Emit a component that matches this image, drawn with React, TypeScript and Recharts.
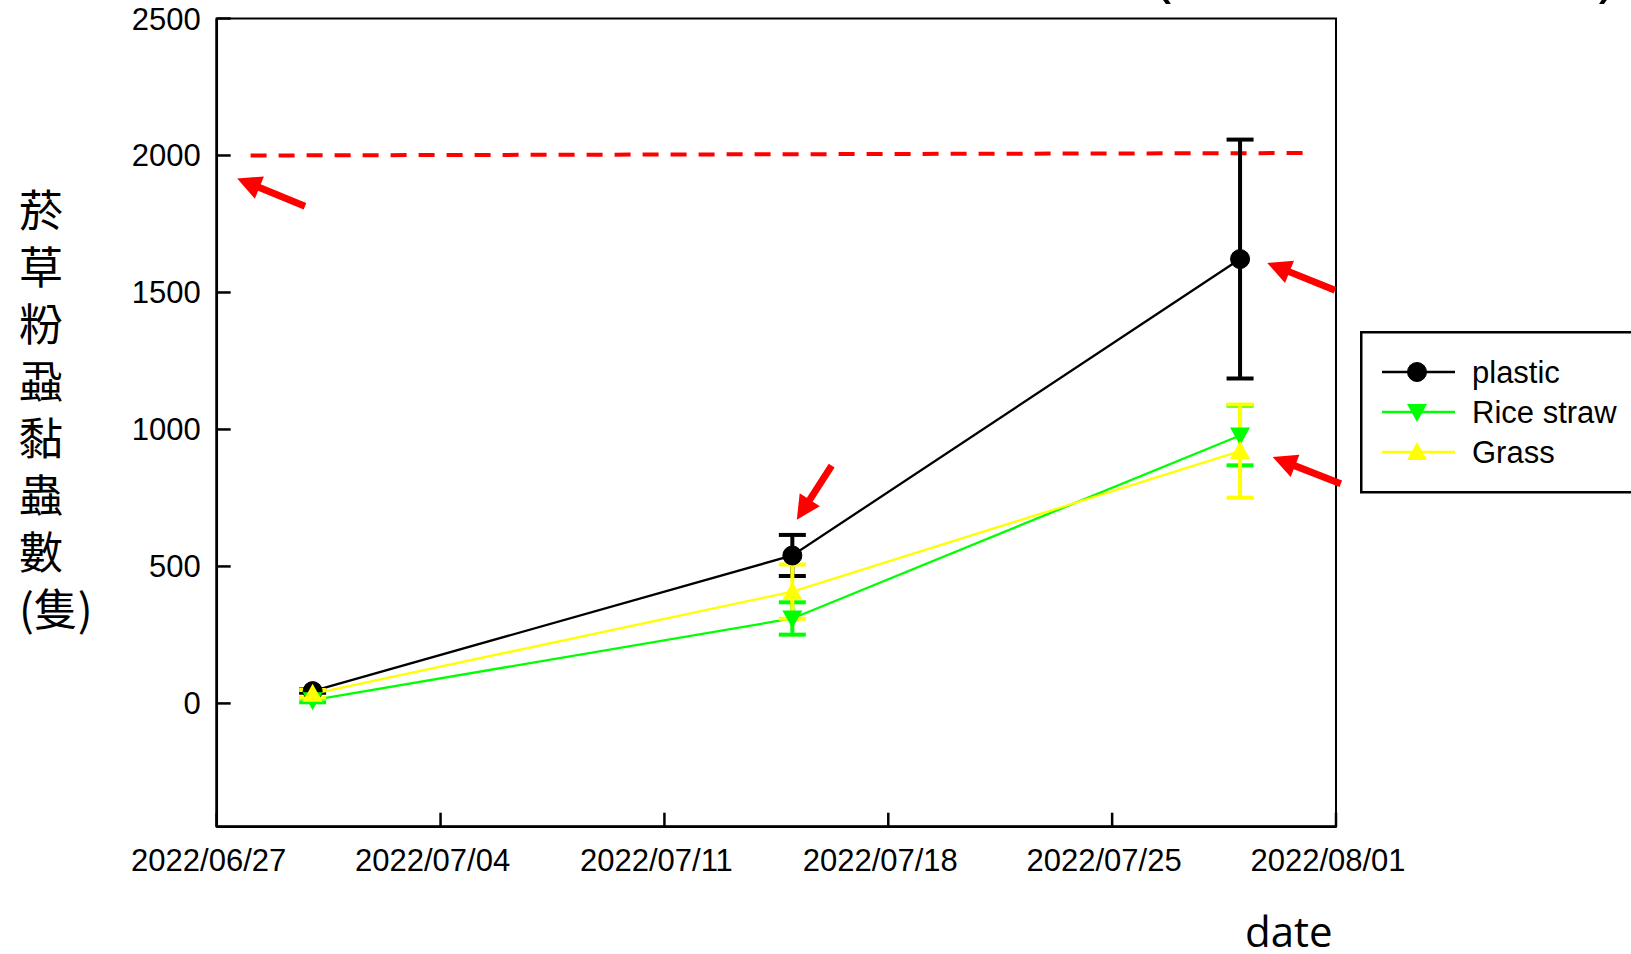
import React from 'react';
import { ComposedChart, Line, XAxis, YAxis, ErrorBar, ReferenceLine, ReferenceArea, Legend } from 'recharts';

// ---------- data ----------
const startDate = '2022/06/27';
const dates = ['2022/06/30', '2022/07/15', '2022/07/29'];
const plastic = [45, 540, 1622];
const plasticErr = [6, 75, 436];
const riceStraw = [12, 310, 978];
const riceStrawErr = [8, 59, 109];
const grass = [35, 408, 921];
const grassErr = [14, 99, 170];

const xTickLabels = ['2022/06/27', '2022/07/04', '2022/07/11', '2022/07/18', '2022/07/25', '2022/08/01'];
const yTicks = [0, 500, 1000, 1500, 2000, 2500];
const yDomain = [-450, 2500];

const seriesKeys = ['plastic', 'rice', 'grass'];
const seriesNames = ['plastic', 'Rice straw', 'Grass'];
const seriesColors = ['#000000', '#00ff00', '#ffff00'];
const seriesMarkers = ['circle', 'down', 'up'];

// threshold dashed line (day offset, value)
const thresholdX = [1.06, 34.03];
const thresholdY = [2000, 2009];

// annotation arrows: tail -> head (day offset, value)
const arrowTailX = [2.76, 34.97, 35.15, 19.23];
const arrowTailY = [1815, 1508, 802, 868];
const arrowHeadX = [0.64, 32.85, 33.02, 18.14];
const arrowHeadY = [1916, 1608, 899, 670];

const yLabelChars = ['菸', '草', '粉', '蝨', '黏', '蟲', '數', '(隻)'];
const xLabelText = 'date';

// ---------- derived ----------
const parseDay = (s: string) => {
  const [y, m, d] = s.split('/').map(Number);
  return Date.UTC(y, m - 1, d) / 86400000;
};
const day0 = parseDay(startDate);
const xTickDays = xTickLabels.map((s) => parseDay(s) - day0);

const data = dates.map((d, i) => ({
  day: parseDay(d) - day0,
  plastic: plastic[i],
  plasticErr: plasticErr[i],
  rice: riceStraw[i],
  riceErr: riceStrawErr[i],
  grass: grass[i],
  grassErr: grassErr[i],
}));

const FONT = '"Liberation Sans", Arial, sans-serif';

function MarkerShape({ shape, cx, cy, color }: any) {
  if (cx == null || cy == null) return null;
  if (shape === 'circle') return <circle cx={cx} cy={cy} r={9.5} fill={color} stroke={color} />;
  if (shape === 'down')
    return <polygon points={`${cx - 10},${cy - 8} ${cx + 10},${cy - 8} ${cx},${cy + 10}`} fill={color} />;
  return <polygon points={`${cx - 10},${cy + 8} ${cx + 10},${cy + 8} ${cx},${cy - 10}`} fill={color} />;
}

function ArrowShape(props: any) {
  const { x1, y1, x2, y2 } = props;
  const dx = x2 - x1;
  const dy = y2 - y1;
  const len = Math.sqrt(dx * dx + dy * dy);
  const ux = dx / len;
  const uy = dy / len;
  const px = -uy;
  const py = ux;
  const headLen = 24;
  const headHalf = 12;
  const bx = x2 - ux * headLen;
  const by = y2 - uy * headLen;
  return (
    <g>
      <line x1={x1} y1={y1} x2={bx + ux * 2} y2={by + uy * 2} stroke="#ff0000" strokeWidth={7} />
      <polygon
        points={`${x2},${y2} ${bx + px * headHalf},${by + py * headHalf} ${bx - px * headHalf},${by - py * headHalf}`}
        fill="#ff0000"
      />
    </g>
  );
}

function XTick(props: any) {
  const { x, y, index } = props;
  return (
    <text x={x - 8} y={y + 22} textAnchor="middle" fontFamily={FONT} fontSize={31} fill="#000">
      {xTickLabels[index]}
    </text>
  );
}

function YTick(props: any) {
  const { x, y, payload } = props;
  return (
    <text x={x} y={y + 11} textAnchor="end" fontFamily={FONT} fontSize={31} fill="#000">
      {payload.value}
    </text>
  );
}

function YLabel() {
  return (
    <g>
      {yLabelChars.map((c, i) => (
        <text
          key={i}
          x={19}
          y={227 + 57 * i}
          fontFamily='"Noto Sans CJK TC", "Noto Sans CJK SC", sans-serif'
          fontSize={44}
          fill="#000"
        >
          {c}
        </text>
      ))}
    </g>
  );
}

function XLabel() {
  return (
    <text x={1245} y={947} fontFamily='"Open Sans", sans-serif' fontSize={42} fill="#000">
      {xLabelText}
    </text>
  );
}

function LegendBox() {
  return (
    <svg width={330} height={165} style={{ display: 'block' }}>
      <rect x={1.25} y={1.25} width={340} height={160} fill="#fff" stroke="#000" strokeWidth={2.5} />
      {seriesNames.map((n, i) => {
        const cy = 41 + 40 * i;
        return (
          <g key={n}>
            <line x1={22} y1={cy} x2={95} y2={cy} stroke={seriesColors[i]} strokeWidth={2.5} />
            <MarkerShape shape={seriesMarkers[i]} cx={57} cy={cy} color={seriesColors[i]} />
            <text x={112} y={cy + 11} fontFamily={FONT} fontSize={31} fill="#000">
              {n}
            </text>
          </g>
        );
      })}
    </svg>
  );
}

export default function App() {
  return (
    <div
      style={{
        position: 'absolute',
        left: 0,
        top: 0,
        width: 1631,
        height: 954,
        overflow: 'hidden',
        background: '#fff',
      }}
    >
      <ComposedChart
        width={1631}
        height={954}
        data={data}
        margin={{ top: 18.5, right: 295, bottom: 67.3, left: 156.7 }}
      >
        <XAxis
          dataKey="day"
          type="number"
          domain={[0, 35]}
          ticks={xTickDays}
          allowDataOverflow
          height={60}
          tickSize={-14}
          tickMargin={36}
          tickLine={{ stroke: '#000', strokeWidth: 2.5 }}
          axisLine={{ stroke: '#000', strokeWidth: 2.7 }}
          tick={<XTick />}
          interval={0}
          label={{ content: () => <XLabel /> }}
        />
        <YAxis
          type="number"
          domain={yDomain}
          ticks={yTicks}
          allowDataOverflow
          width={60}
          tickSize={-14}
          tickMargin={30}
          tickLine={{ stroke: '#000', strokeWidth: 2.5 }}
          axisLine={{ stroke: '#000', strokeWidth: 2.7 }}
          tick={<YTick />}
          interval={0}
          label={{ content: () => <YLabel /> }}
        />
        <ReferenceArea
          x1={0}
          x2={35}
          y1={yDomain[0]}
          y2={yDomain[1]}
          fill="none"
          fillOpacity={0}
          stroke="#000"
          strokeWidth={2}
          ifOverflow="visible"
        />
        <ReferenceLine
          segment={[
            { x: thresholdX[0], y: thresholdY[0] },
            { x: thresholdX[1], y: thresholdY[1] },
          ]}
          stroke="#ff0000"
          strokeWidth={4}
          strokeDasharray="16 12"
          ifOverflow="visible"
        />
        {seriesKeys.map((k, i) => (
          <Line
            key={k}
            dataKey={k}
            name={seriesNames[i]}
            type="linear"
            stroke={seriesColors[i]}
            strokeWidth={2.3}
            isAnimationActive={false}
            activeDot={false}
            dot={(p: any) => (
              <MarkerShape key={`${k}-${p.index}`} shape={seriesMarkers[i]} cx={p.cx} cy={p.cy} color={seriesColors[i]} />
            )}
          >
            <ErrorBar
              dataKey={`${k}Err`}
              direction="y"
              width={13.5}
              strokeWidth={4}
              stroke={seriesColors[i]}
              isAnimationActive={false}
            />
          </Line>
        ))}
        {arrowTailX.map((tx, i) => (
          <ReferenceLine
            key={`arrow-${i}`}
            segment={[
              { x: tx, y: arrowTailY[i] },
              { x: arrowHeadX[i], y: arrowHeadY[i] },
            ]}
            ifOverflow="visible"
            shape={(p: any) => <ArrowShape {...p} />}
          />
        ))}
        <Legend
          layout="horizontal"
          verticalAlign="middle"
          align="center"
          wrapperStyle={{ position: 'absolute', left: 1360, top: 331, width: 330, height: 165 }}
          content={() => <LegendBox />}
        />
      </ComposedChart>
      <svg
        width={1631}
        height={954}
        style={{ position: 'absolute', left: 0, top: 0, pointerEvents: 'none' }}
      >
        <text x={1154} y={-6} fontFamily='"Open Sans", sans-serif' fontSize={64} fill="#000">(</text>
        <text x={1597} y={-6} fontFamily='"Open Sans", sans-serif' fontSize={64} fill="#000">)</text>
      </svg>
    </div>
  );
}
